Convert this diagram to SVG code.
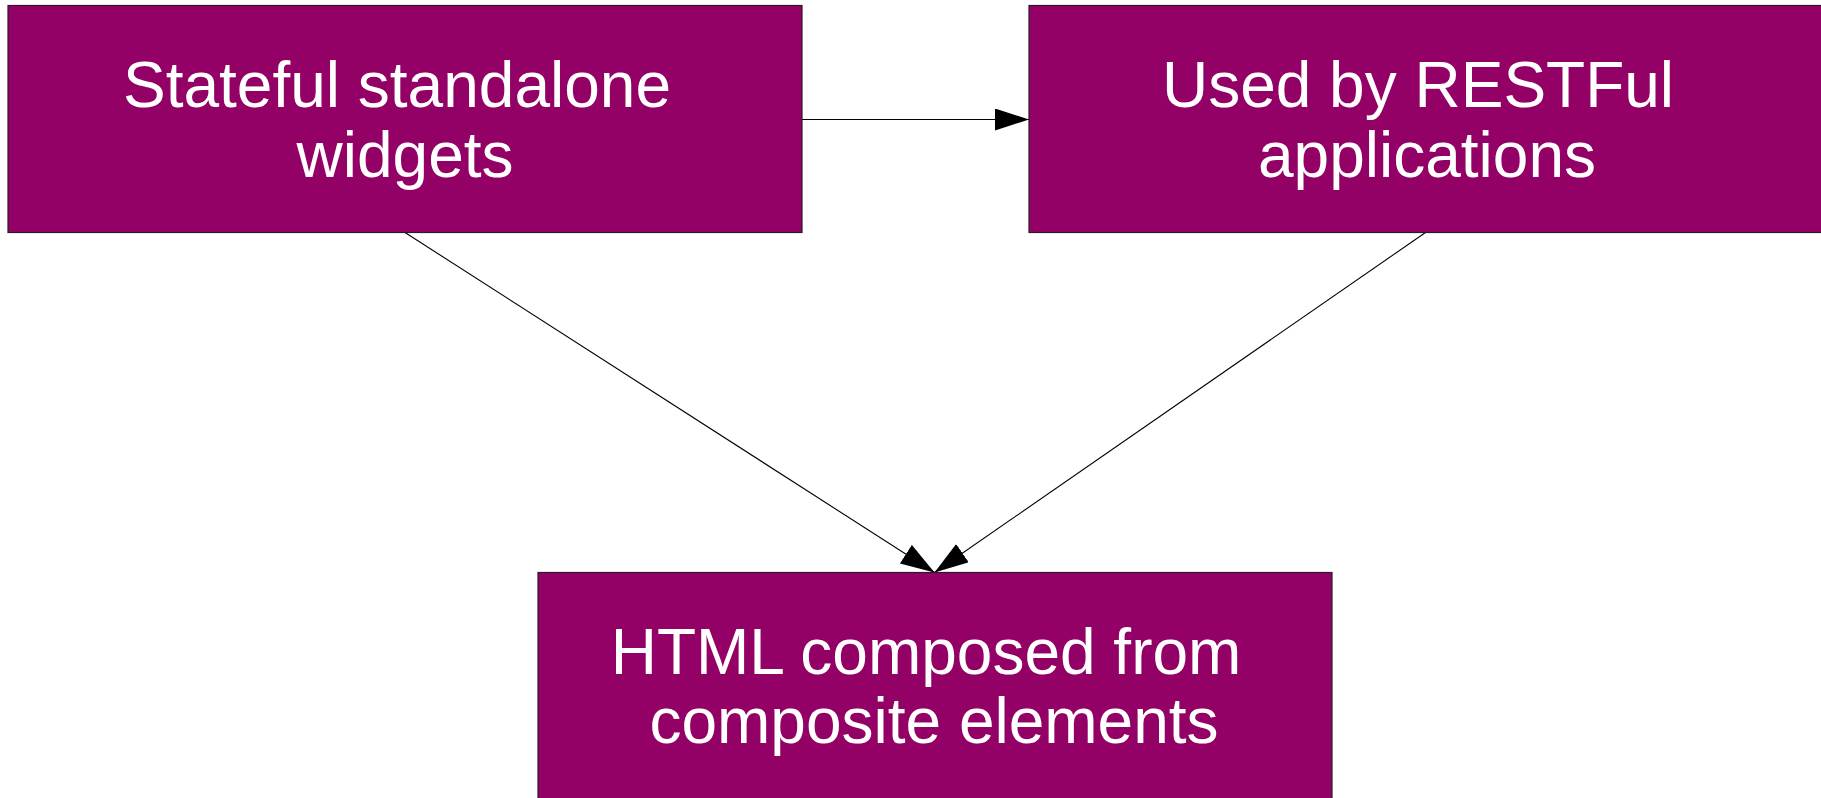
<svg xmlns="http://www.w3.org/2000/svg" width="1821" height="798" viewBox="0 0 1821 798">
<style>
.box{fill:#930066;stroke:#2a1a25;stroke-width:1.2}
.lbl{fill:#ffffff;font-family:"Liberation Sans",Arial,sans-serif;font-size:64px;text-anchor:middle}
.conn{stroke:#000;stroke-width:1.1;fill:none}
</style>
<defs>
<marker id="arr" markerUnits="userSpaceOnUse" markerWidth="36" markerHeight="24" refX="34" refY="11" orient="auto">
<path d="M0,0 L34,11 L0,22 z" fill="#000"/>
</marker>
</defs>
<rect width="1821" height="798" fill="#ffffff"/>
<g id="connectors">
<line class="conn" x1="802" y1="119.5" x2="1029" y2="119.5" marker-end="url(#arr)"/>
<line class="conn" x1="405" y1="232.5" x2="934.5" y2="572.5" marker-end="url(#arr)"/>
<line class="conn" x1="1425.5" y1="232.5" x2="934.5" y2="572.5" marker-end="url(#arr)"/>
</g>
<g id="node-stateful">
<rect class="box" x="8" y="5.5" width="794" height="227"/>
<text class="lbl" x="397" y="107">Stateful standalone</text>
<text class="lbl" x="405" y="177">widgets</text>
</g>
<g id="node-restful">
<rect class="box" x="1029" y="5.5" width="800" height="227"/>
<text class="lbl" x="1418" y="107">Used by RESTFul</text>
<text class="lbl" x="1427" y="177">applications</text>
</g>
<g id="node-html">
<rect class="box" x="538" y="572.5" width="794" height="240"/>
<text class="lbl" x="926" y="674">HTML composed from</text>
<text class="lbl" x="934" y="743">composite elements</text>
</g>
</svg>
